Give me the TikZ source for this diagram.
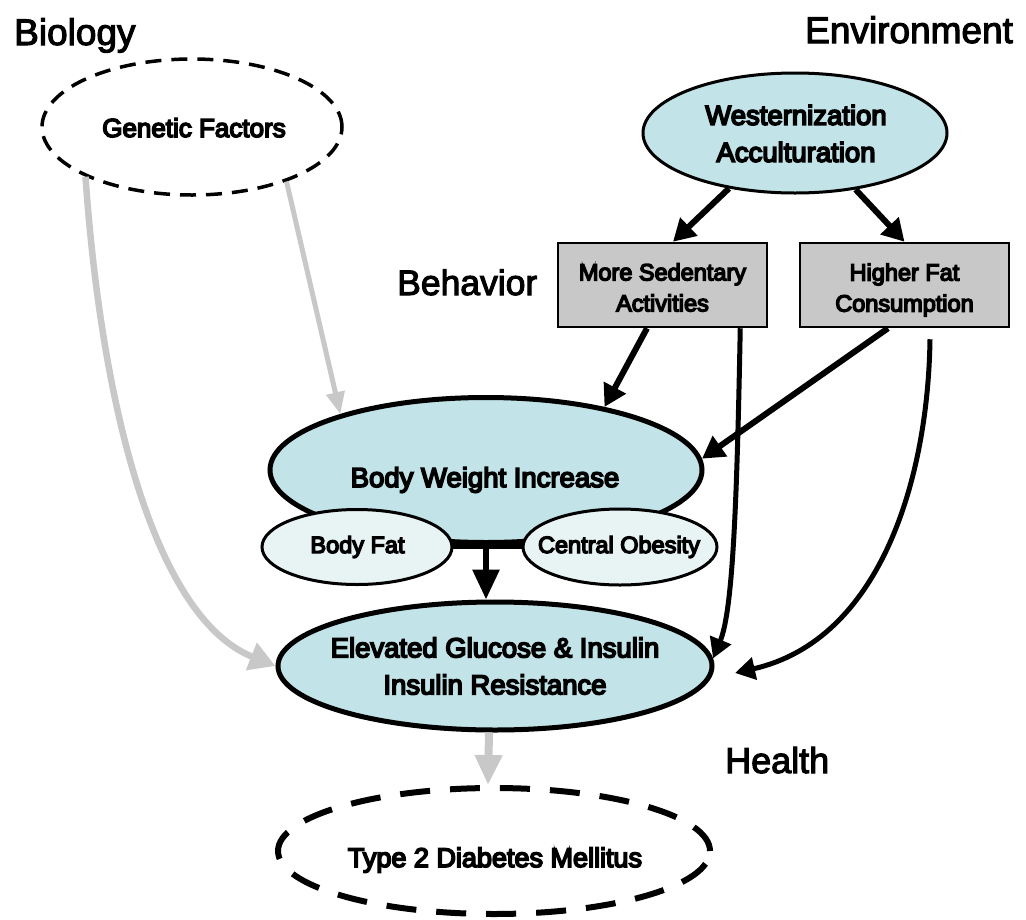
\documentclass[tikz,border=0pt]{standalone}
\usepackage{fontspec}
\setmainfont{Liberation Sans}
\newfontfamily\nodefont{Liberation Sans}[FakeBold=6]
\newfontfamily\titlefont{Liberation Sans}[FakeBold=3]
\usetikzlibrary{arrows.meta,shapes.geometric}
\definecolor{cyanfill}{RGB}{194,227,231}
\definecolor{palefill}{RGB}{232,243,243}
\definecolor{boxgray}{RGB}{200,200,200}
\definecolor{arrgray}{RGB}{200,200,200}
\tikzset{
  bigell/.style={ellipse, draw=black, fill=cyanfill, line width=5pt, inner sep=0pt},
  midell/.style={ellipse, draw=black, fill=cyanfill, line width=3pt, inner sep=0pt},
  smallell/.style={ellipse, draw=black, fill=palefill, line width=3pt, inner sep=0pt},
  dashthin/.style={ellipse, draw=black, line width=3.5pt, dash pattern=on 16pt off 10pt, inner sep=0pt},
  dashthick/.style={ellipse, draw=black, line width=6pt, dash pattern=on 30pt off 20pt, inner sep=0pt},
  boxnode/.style={rectangle, draw=black, fill=boxgray, line width=2.5pt, inner sep=0pt},
  txt/.style={inner sep=0pt, align=center},
  ttl/.style={font={\titlefont\fontsize{37}{40}\selectfont}, inner sep=0pt, anchor=base west},
  blkarrow/.style={draw=black, line width=6pt, -{Triangle[length=22pt,width=24pt]}},
  curvearrow/.style={draw=black, line width=5pt, -{Triangle[length=20pt,width=22pt]}},
  bigdown/.style={draw=black, line width=6pt, -{Triangle[length=30pt,width=26pt]}},
  grayarrow/.style={draw=arrgray, line width=6.5pt, -{Triangle[length=26pt,width=28pt]}},
  graythin/.style={draw=arrgray, line width=5pt, -{Triangle[length=22pt,width=18pt]}},
  graydown/.style={draw=arrgray, line width=8pt, -{Triangle[length=30pt,width=26pt]}},
}
\begin{document}
\begin{tikzpicture}[x=1pt,y=-1pt]
\useasboundingbox[fill=white] (0,0) rectangle (1026,919);

% titles
\node[ttl] (tbio) at (14,45) {Biology};
\node[ttl] (tenv) at (805,43) {Environment};
\node[ttl, font={\titlefont\fontsize{35.5}{40}\selectfont}] (tbeh) at (397,295) {Behavior};
\node[ttl, font={\titlefont\fontsize{36}{40}\selectfont}] (thea) at (725,773) {Health};

% shapes
\node[dashthin, minimum width=300pt, minimum height=136pt] (gen) at (192,127) {};
\node[midell, minimum width=304pt, minimum height=120pt] (west) at (795,133) {};
\node[boxnode, minimum width=209pt, minimum height=84pt] (sed) at (662.5,285) {};
\node[boxnode, minimum width=209pt, minimum height=84pt] (hfc) at (904.5,285) {};
\node[bigell, minimum width=432pt, minimum height=145pt] (bw) at (486,470) {};
\draw[line width=7pt] ([xshift=-40pt]bw.south) -- ([xshift=40pt]bw.south);
\node[smallell, minimum width=190pt, minimum height=75pt] (bf) at (357,547) {};
\node[smallell, minimum width=194pt, minimum height=76pt] (co) at (620,547) {};
\node[bigell, minimum width=434pt, minimum height=128pt] (elev) at (495,666) {};
\node[dashthick, minimum width=432pt, minimum height=126pt] (t2) at (494,851) {};

% texts
\node[txt, font={\nodefont\fontsize{26}{30}\selectfont}, anchor=base] (tgen) at (194,137) {Genetic Factors};
\node[txt, font={\nodefont\fontsize{27.5}{37}\selectfont}] (twest) at (796,133.5) {Westernization\\Acculturation};
\node[txt, font={\nodefont\fontsize{23.5}{31}\selectfont}] (tsed) at (662.5,287.5) {More Sedentary\\Activities};
\node[txt, font={\nodefont\fontsize{23.5}{31}\selectfont}] (thfc) at (904.5,290) {Higher Fat\\Consumption};
\node[txt, font={\nodefont\fontsize{27.5}{37}\selectfont}, anchor=base] (tbw) at (485,487) {Body Weight Increase};
\node[txt, font={\nodefont\fontsize{23.5}{30}\selectfont}, anchor=base] (tbf) at (357.5,553) {Body Fat};
\node[txt, font={\nodefont\fontsize{23.5}{30}\selectfont}, anchor=base] (tco) at (619,553) {Central Obesity};
\node[txt, font={\nodefont\fontsize{27.5}{37}\selectfont}] (telev) at (495,666) {Elevated Glucose \& Insulin\\Insulin Resistance};
\node[txt, font={\nodefont\fontsize{27}{30}\selectfont}, anchor=base] (tt2) at (495,867) {Type 2 Diabetes Mellitus};

% connectors
\coordinate (hfend) at (735,673);
\draw[blkarrow] (west.220) -- ([xshift=10.5pt]sed.north);
\draw[blkarrow] (west.-43) -- (hfc.north);
\draw[blkarrow] ([xshift=-15.5pt]sed.south) -- (bw.28);
\draw[blkarrow] ([xshift=-16.5pt]hfc.south) -- (bw.3);
\draw[curvearrow] ([xshift=-28pt]sed.south east) .. controls (737,500) and (733,610) .. (elev.2);
\draw[curvearrow] ([xshift=25.5pt,yshift=-11pt]hfc.south) .. controls (928,480) and (880,640) .. (hfend);
\draw[bigdown] (bw.south) -- (bw.south |- elev.north);
\draw[grayarrow] (gen.205) .. controls (103,425) and (160,620) .. (elev.west);
\draw[graythin] (gen.-30) -- (bw.159);
\draw[graydown] ([xshift=-6pt]elev.south) -- ([xshift=-6pt]t2.north);
\end{tikzpicture}
\end{document}
